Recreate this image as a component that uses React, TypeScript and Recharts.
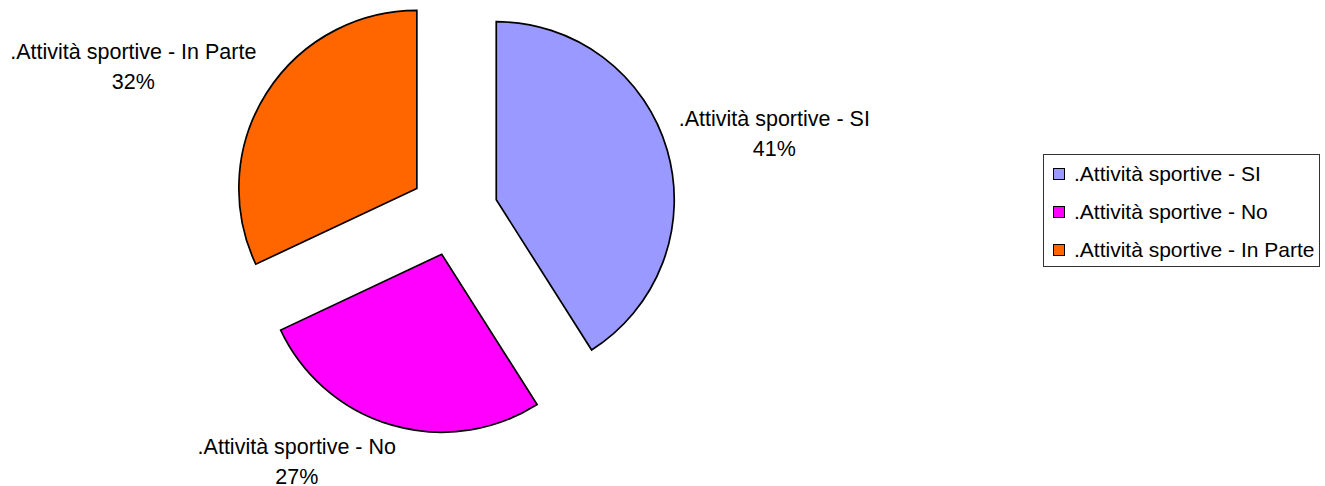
import React from 'react';
import { PieChart, Pie, Cell, Legend } from 'recharts';

const categories = ['.Attività sportive - SI', '.Attività sportive - No', '.Attività sportive - In Parte'];
const values = [41, 27, 32];
const colors = ['#9999FF', '#FF00FF', '#FF6600'];

const W = 1325;
const H = 486;
const CX = 454;
const CY = 212;
const R = 178;
const EXPLODE = 44;
const FONT = '"Liberation Sans", Arial, Helvetica, sans-serif';
const FS = 21.5;
const LEGEND_FS = 21;
const RAD = Math.PI / 180;

const data = categories.map((name, i) => ({ name, value: values[i] }));
const total = values.reduce((a, b) => a + b, 0);
const midAngles = values.map((v, i) => {
  const before = values.slice(0, i).reduce((a, b) => a + b, 0);
  return 90 - (360 * (before + v / 2)) / total;
});

let ctx: CanvasRenderingContext2D | null = null;
function measure(t: string): number {
  if (!ctx) ctx = document.createElement('canvas').getContext('2d');
  if (!ctx) return t.length * FS * 0.5;
  ctx.font = `${FS}px ${FONT}`;
  return ctx.measureText(t).width;
}

function makeLabel(visible: number) {
  return (props: any) => {
    const { index, cx, cy, midAngle, outerRadius, percent, name } = props;
    if (index !== visible) return null;
    const dx = Math.cos(-midAngle * RAD);
    const dy = Math.sin(-midAngle * RAD);
    const px = cx + (outerRadius + 12) * dx;
    const py = cy + (outerRadius + 12) * dy;
    const pct = `${Math.round(percent * 100)}%`;
    const w = Math.max(measure(name), measure(pct));
    const frac = dx >= 0 ? 0 : Math.min(1, 0.93 - dx * 0.12);
    const left = px - w * frac;
    const mid = left + w / 2;
    const bh = 60;
    const top = py - (bh * (1 - dy)) / 2 - 4.5;
    const b1 = top + 15 + FS * 0.35;
    return (
      <text fontFamily={FONT} fontSize={FS} fill="#000" textAnchor="middle">
        <tspan x={mid} y={b1}>{name}</tspan>
        <tspan x={mid} y={b1 + 30}>{pct}</tspan>
      </text>
    );
  };
}

const renderLegend = () => (
  <div
    style={{
      border: '1px solid #333',
      background: '#fff',
      width: 277,
      height: 113,
      boxSizing: 'border-box',
      fontFamily: FONT,
      fontSize: LEGEND_FS,
      color: '#000',
    }}
  >
    {categories.map((c, i) => (
      <div key={c} style={{ display: 'flex', alignItems: 'center', height: 38, paddingLeft: 9 }}>
        <span
          style={{
            display: 'inline-block',
            width: 10,
            height: 10,
            background: colors[i],
            border: '1px solid #000',
            marginRight: 9,
            flex: 'none',
          }}
        />
        <span style={{ whiteSpace: 'nowrap', lineHeight: '24px' }}>{c}</span>
      </div>
    ))}
  </div>
);

export default function App() {
  return (
    <div style={{ width: W, height: H, background: '#fff' }}>
      <style>{`body{margin:0;background:#fff}`}</style>
      <PieChart width={W} height={H} margin={{ top: 0, right: 0, bottom: 0, left: 0 }}>
        {categories.map((cat, i) => (
          <Pie
            key={cat}
            data={data}
            dataKey="value"
            nameKey="name"
            cx={CX + EXPLODE * Math.cos(-midAngles[i] * RAD)}
            cy={CY + EXPLODE * Math.sin(-midAngles[i] * RAD)}
            outerRadius={R}
            innerRadius={0}
            startAngle={90}
            endAngle={-270}
            isAnimationActive={false}
            labelLine={false}
            label={makeLabel(i)}
            legendType="none"
          >
            {data.map((d, j) =>
              j === i ? (
                <Cell key={d.name} fill={colors[j]} stroke="#000" strokeWidth={1.7} />
              ) : (
                <Cell key={d.name} fill="none" stroke="none" />
              )
            )}
          </Pie>
        ))}
        <Legend
          layout="vertical"
          align="right"
          verticalAlign="top"
          content={renderLegend}
          wrapperStyle={{ left: 1043, top: 154, width: 277, right: 'auto' }}
        />
      </PieChart>
    </div>
  );
}
